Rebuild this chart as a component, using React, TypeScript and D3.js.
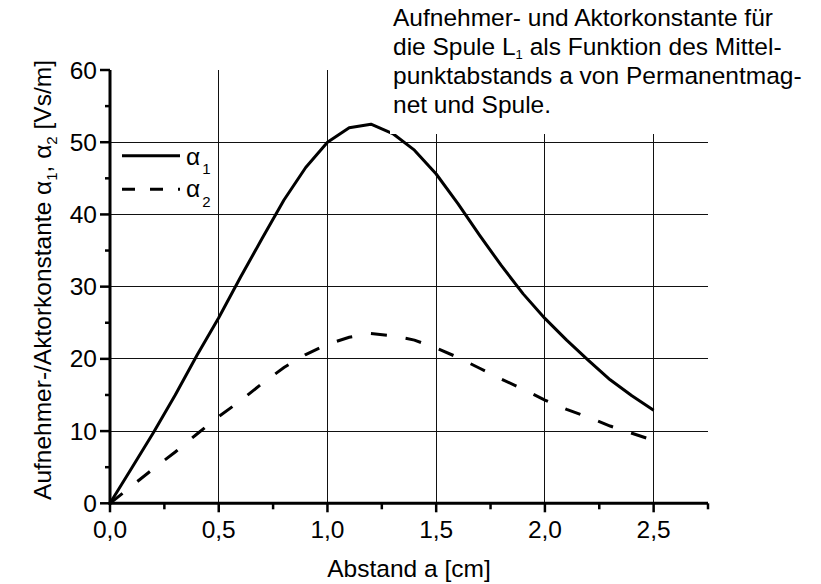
import React from "react";
import * as d3 from "d3";

// Distance between coil centre and permanent magnet [cm]
const distances = [
  0, 0.1, 0.2, 0.3, 0.4, 0.5, 0.6, 0.7, 0.8, 0.9, 1.0, 1.1, 1.2,
  1.3, 1.4, 1.5, 1.6, 1.7, 1.8, 1.9, 2.0, 2.1, 2.2, 2.3, 2.4, 2.5,
];
// Sensor / actuator constant alpha_1 [Vs/m]
const alpha1 = [
  0, 4.9, 9.8, 15.0, 20.5, 25.7, 31.3, 36.7, 42.0, 46.5, 50.0, 52.0, 52.5,
  51.2, 48.9, 45.6, 41.5, 37.1, 32.9, 29.0, 25.6, 22.6, 19.8, 17.1, 14.9, 12.9,
];
// Sensor / actuator constant alpha_2 [Vs/m]
const alpha2 = [
  0, 2.4, 4.8, 7.1, 9.6, 12.0, 14.2, 16.6, 18.8, 20.6, 22.0, 23.0, 23.5,
  23.2, 22.6, 21.5, 20.2, 18.7, 17.2, 15.8, 14.3, 13.0, 11.9, 10.7, 9.7, 8.7,
];

const xMajorTicks = [0, 0.5, 1.0, 1.5, 2.0, 2.5];
const xMinorTicks = [0.25, 0.75, 1.25, 1.75, 2.25, 2.75];
const yMajorTicks = [0, 10, 20, 30, 40, 50, 60];
const yMinorTicks = [5, 15, 25, 35, 45, 55];
const yGridLines = [10, 20, 30, 40, 50];
const xGridLines = [0.5, 1.0, 1.5, 2.0, 2.5];

const titleLines = [
  "Aufnehmer- und Aktorkonstante für",
  "die Spule L",
  "punktabstands a von Permanentmag-",
  "net und Spule.",
];

const W = 821;
const H = 584;
const FONT = "'Liberation Sans', Arial, sans-serif";

const deLocale = d3.formatLocale({
  decimal: ",",
  thousands: ".",
  grouping: [3],
  currency: ["", " €"],
});
const fmtX = deLocale.format(".1f");

export default function App() {
  const x = d3.scaleLinear().domain([0, 2.75]).range([110, 708]);
  const y = d3.scaleLinear().domain([0, 60]).range([503.3, 70]);

  const line = d3
    .line<number>()
    .x((_, i) => x(distances[i]))
    .y((d) => y(d));

  const fs = 24.5;
  const sub = 15;

  return (
    <div style={{ position: "fixed", left: 0, top: 0 }}>
      <svg width={W} height={H} style={{ display: "block", background: "#fff" }}>
        {/* grid */}
        <g stroke="#111" strokeWidth={1} shapeRendering="crispEdges">
          {yGridLines.map((v) => (
            <line key={"gy" + v} x1={x(0)} x2={x(2.75)} y1={y(v)} y2={y(v)} />
          ))}
          {xGridLines.map((v) => (
            <line key={"gx" + v} x1={x(v)} x2={x(v)} y1={y(0)} y2={y(60)} />
          ))}
        </g>

        {/* curves */}
        <path d={line(alpha1) || ""} fill="none" stroke="#000" strokeWidth={3} strokeLinejoin="round" />
        <path
          d={line(alpha2) || ""}
          fill="none"
          stroke="#000"
          strokeWidth={3}
          strokeDasharray="16,19"
        />

        {/* caption block, sits on top of the plot area */}
        <rect x={390} y={0} width={W - 390} height={134} fill="#fff" />
        <g fontFamily={FONT} fontSize={fs} fill="#000">
          {titleLines.map((t, i) => (
            <text key={i} x={393} y={26 + i * 29}>
              {t}
              {i === 1 && (
                <>
                  <tspan fontSize={13} dy={4}>1</tspan>
                  <tspan dy={-4}> als Funktion des Mittel-</tspan>
                </>
              )}
            </text>
          ))}
        </g>

        {/* axes */}
        <g stroke="#000" fill="none">
          <line x1={x(0)} x2={x(0)} y1={y(0) + 1.5} y2={y(60)} strokeWidth={3} />
          <line x1={x(0) - 1.5} x2={x(2.75)} y1={y(0)} y2={y(0)} strokeWidth={3} />
          {yMajorTicks.map((v) => (
            <line key={"ym" + v} x1={x(0) - 10} x2={x(0)} y1={y(v)} y2={y(v)} strokeWidth={2.5} />
          ))}
          {yMinorTicks.map((v) => (
            <line key={"yn" + v} x1={x(0) - 5} x2={x(0)} y1={y(v)} y2={y(v)} strokeWidth={2.5} />
          ))}
          {xMajorTicks.map((v) => (
            <line key={"xm" + v} x1={x(v)} x2={x(v)} y1={y(0)} y2={y(0) + 9} strokeWidth={2.5} />
          ))}
          {xMinorTicks.map((v) => (
            <line key={"xn" + v} x1={x(v)} x2={x(v)} y1={y(0)} y2={y(0) + 6} strokeWidth={2.5} />
          ))}
        </g>

        {/* tick labels */}
        <g fontFamily={FONT} fontSize={fs} fill="#000">
          {yMajorTicks.map((v) => (
            <text key={"yl" + v} x={97} y={y(v) + 8.6} textAnchor="end">
              {v}
            </text>
          ))}
          {xMajorTicks.map((v) => (
            <text key={"xl" + v} x={x(v)} y={538} textAnchor="middle">
              {fmtX(v)}
            </text>
          ))}
        </g>

        {/* axis titles */}
        <g fontFamily={FONT} fontSize={fs} fill="#000">
          <text x={409} y={577} textAnchor="middle">
            Abstand a [cm]
          </text>
          <text transform="translate(51,280) rotate(-90)" textAnchor="middle">
            Aufnehmer-/Aktorkonstante α
            <tspan fontSize={sub} dy={6}>1</tspan>
            <tspan dy={-6}>, α</tspan>
            <tspan fontSize={sub} dy={6}>2</tspan>
            <tspan dy={-6}> [Vs/m]</tspan>
          </text>
        </g>

        {/* legend */}
        <g>
          <line x1={122} x2={180} y1={155.7} y2={155.7} stroke="#000" strokeWidth={3} />
          <line
            x1={122}
            x2={180}
            y1={189.3}
            y2={189.3}
            stroke="#000"
            strokeWidth={3}
            strokeDasharray="13,15,13,15,2,20"
          />
          <g fontFamily={FONT} fontSize={fs} fill="#000">
            <text x={186} y={165}>
              α<tspan fontSize={sub} dx={2} dy={9}>1</tspan>
            </text>
            <text x={186} y={197}>
              α<tspan fontSize={sub} dx={2} dy={10}>2</tspan>
            </text>
          </g>
        </g>
      </svg>
    </div>
  );
}
